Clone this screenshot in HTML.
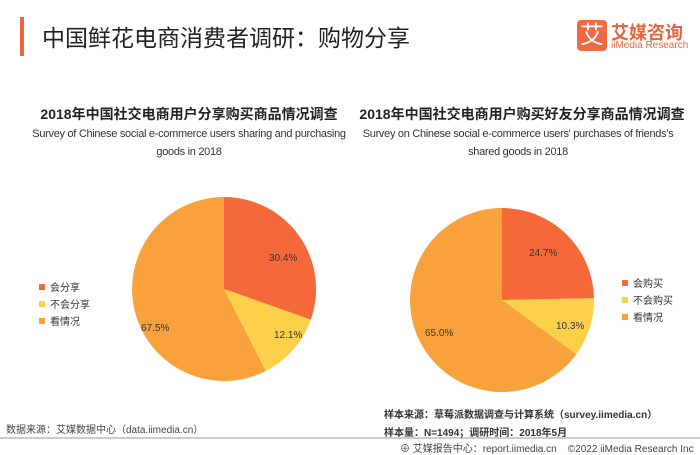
<!DOCTYPE html>
<html><head><meta charset="utf-8"><style>
body{margin:0;width:700px;height:455px;background:#fff;font-family:"Liberation Sans","Noto Sans CJK SC",sans-serif;overflow:hidden;position:relative}
.t{position:absolute;white-space:nowrap}
.c{position:absolute;white-space:nowrap;text-align:center;transform:translateX(-50%)}
</style></head><body>
<div style="position:absolute;left:20px;top:17px;width:4px;height:39px;background:#F0643A"></div>
<div class="t" style="left:42px;top:19px;font-size:23px;color:#222">中国鲜花电商消费者调研：购物分享</div>
<div style="position:absolute;left:577px;top:20px;width:30px;height:31px;background:#EE6A42;border-radius:4px;color:#fff;font-size:24px;line-height:31px;text-align:center">艾</div>
<div class="t" style="left:611px;top:19px;font-size:18px;color:#E8653F;font-weight:bold">艾媒咨询</div>
<div class="t" style="left:611px;top:40px;font-size:10px;color:#E8653F">iiMedia Research</div>
<div class="c" style="left:189px;top:104px;font-size:14px;font-weight:bold;color:#222">2018年中国社交电商用户分享购买商品情况调查</div>
<div class="c" style="left:189px;top:128px;font-size:11px;color:#333;letter-spacing:-0.3px">Survey of Chinese social e-commerce users sharing and purchasing</div>
<div class="c" style="left:189px;top:146px;font-size:11px;color:#333;letter-spacing:-0.3px">goods in 2018</div>
<div class="c" style="left:522px;top:104px;font-size:14px;font-weight:bold;color:#222">2018年中国社交电商用户购买好友分享商品情况调查</div>
<div class="c" style="left:518px;top:128px;font-size:11px;color:#333;letter-spacing:-0.3px">Survey on Chinese social e-commerce users' purchases of friends's</div>
<div class="c" style="left:518px;top:146px;font-size:11px;color:#333;letter-spacing:-0.3px">shared goods in 2018</div>
<svg width="700" height="455" style="position:absolute;left:0;top:0">
<path d="M224,289 L224,197 A92,92 0 0 1 310.8,319.6 Z" fill="#F4683A"/>
<path d="M224,289 L310.8,319.6 A92,92 0 0 1 265.8,371 Z" fill="#FDD04A"/>
<path d="M224,289 L265.8,371 A92,92 0 1 1 224,197 Z" fill="#F9A23B"/>
<path d="M502,300 L502,208 A92,92 0 0 1 594,298.3 Z" fill="#F4683A"/>
<path d="M502,300 L594,298.3 A92,92 0 0 1 576.4,354.1 Z" fill="#FDD04A"/>
<path d="M502,300 L576.4,354.1 A92,92 0 1 1 502,208 Z" fill="#F9A23B"/>
<g font-size="10" fill="#333" font-family="Liberation Sans, Noto Sans CJK SC, sans-serif">
<text x="269" y="261">30.4%</text><text x="274" y="338">12.1%</text><text x="141" y="331">67.5%</text>
<text x="529" y="256">24.7%</text><text x="556" y="329">10.3%</text><text x="425" y="336">65.0%</text>
<rect x="39" y="284" width="6" height="6" fill="#F4683A"/><text x="50" y="291">会分享</text>
<rect x="39" y="301" width="6" height="6" fill="#FDD04A"/><text x="50" y="308">不会分享</text>
<rect x="39" y="318" width="6" height="6" fill="#F9A23B"/><text x="50" y="325">看情况</text>
<rect x="622" y="280" width="6" height="6" fill="#F4683A"/><text x="633" y="287">会购买</text>
<rect x="622" y="297" width="6" height="6" fill="#FDD04A"/><text x="633" y="304">不会购买</text>
<rect x="622" y="314" width="6" height="6" fill="#F9A23B"/><text x="633" y="321">看情况</text>
</g>
<line x1="0" y1="438" x2="700" y2="438" stroke="#999" stroke-width="1"/>
</svg>
<div class="t" style="left:6px;top:421px;font-size:10px;color:#444">数据来源：艾媒数据中心（data.iimedia.cn）</div>
<div class="t" style="left:384px;top:406px;font-size:10px;color:#333;font-weight:bold">样本来源：草莓派数据调查与计算系统（survey.iimedia.cn）</div>
<div class="t" style="left:384px;top:424px;font-size:10px;color:#333;font-weight:bold">样本量：N=1494；调研时间：2018年5月</div>
<div class="t" style="left:400px;top:440px;font-size:10px;color:#444">⊕ 艾媒报告中心：report.iimedia.cn &nbsp;&nbsp;&nbsp;©2022 iiMedia Research Inc</div>
</body></html>
